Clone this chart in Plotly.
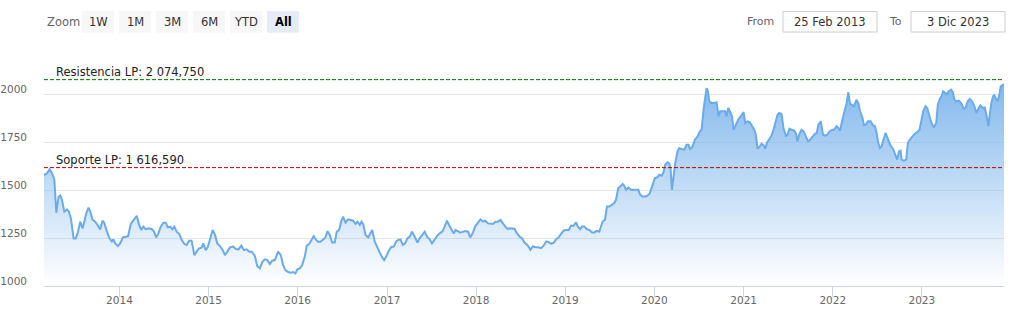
import plotly.graph_objects as go
import pandas as pd

# ---- data (dates as decimal years) ----
anio_a = [2013.153,2013.187,2013.216,2013.243,2013.269,2013.291,2013.317,2013.336,2013.355,2013.381,
          2013.411,2013.433,2013.455,2013.485,2013.508,2013.530,2013.560,2013.586,2013.605,2013.627,
          2013.653,2013.672,2013.698,2013.728,2013.754,2013.784,2013.810,2013.829,2013.859,2013.888,
          2013.915,2013.933,2013.952,2013.982,2014.008,2014.038,2014.071,2014.097,2014.127,2014.150,
          2014.176,2014.194,2014.221,2014.243,2014.269,2014.295,2014.325,2014.362,2014.389,2014.411,
          2014.437,2014.463,2014.493,2014.519,2014.542,2014.568,2014.594,2014.616,2014.642,2014.672,
          2014.698,2014.728,2014.754,2014.781,2014.810,2014.840,2014.866,2014.893,2014.922,2014.941,
          2014.967,2014.990,2015.016,2015.046,2015.072,2015.098,2015.128,2015.158,2015.184,2015.210,
          2015.240,2015.277,2015.307,2015.337,2015.367,2015.396,2015.426,2015.456,2015.486,2015.520,
          2015.546,2015.576,2015.606,2015.632,2015.658,2015.688,2015.714]
valor_a = [1578,1587,1608,1587,1555,1382,1465,1472,1448,1387,
           1399,1387,1352,1248,1248,1274,1335,1300,1335,1378,
           1408,1387,1344,1335,1318,1295,1340,1330,1283,1248,
           1231,1243,1222,1208,1222,1253,1257,1260,1323,1340,
           1352,1366,1318,1292,1309,1295,1300,1297,1283,1253,
           1274,1309,1330,1330,1306,1309,1295,1309,1283,1271,
           1240,1219,1214,1236,1236,1161,1179,1196,1200,1222,
           1187,1201,1243,1292,1266,1222,1208,1187,1161,1179,
           1201,1205,1193,1191,1210,1187,1191,1179,1179,1156,
           1104,1092,1127,1139,1135,1115,1132]

anio_b = [2015.744,2015.781,2015.811,2015.837,2015.863,2015.893,2015.923,2015.949,2015.975,2015.997,
          2016.024,2016.050,2016.080,2016.102,2016.128,2016.154,2016.180,2016.206,2016.229,2016.255,
          2016.285,2016.311,2016.333,2016.359,2016.386,2016.415,2016.438,2016.464,2016.486,2016.509,
          2016.535,2016.565,2016.591,2016.621,2016.647,2016.669,2016.695,2016.714,2016.733,2016.759,
          2016.789,2016.815,2016.834,2016.863,2016.893,2016.919,2016.946,2016.968,2016.994,2017.020,
          2017.050,2017.076,2017.102,2017.125,2017.151,2017.177,2017.203,2017.229,2017.255,2017.281,
          2017.311,2017.341,2017.367,2017.397,2017.423,2017.449,2017.479,2017.505,2017.535,2017.561,
          2017.591,2017.621,2017.647,2017.673,2017.696,2017.722,2017.748,2017.770,2017.797,2017.823,
          2017.853,2017.879,2017.909,2017.935,2017.965,2017.991,2018.021,2018.050,2018.077,2018.103,
          2018.133,2018.162,2018.189,2018.218,2018.245,2018.274,2018.301,2018.327,2018.357]
valor_b = [1135,1179,1161,1109,1083,1073,1069,1073,1066,1087,
           1092,1109,1153,1210,1219,1243,1260,1240,1231,1231,
           1243,1253,1286,1266,1226,1226,1283,1292,1335,1361,
           1330,1347,1344,1340,1323,1335,1318,1335,1323,1266,
           1253,1274,1292,1231,1196,1174,1149,1135,1156,1184,
           1205,1205,1231,1240,1243,1214,1222,1248,1257,1283,
           1257,1226,1248,1266,1283,1257,1243,1222,1243,1260,
           1274,1283,1309,1340,1318,1292,1274,1292,1283,1278,
           1283,1286,1283,1253,1278,1312,1330,1347,1335,1340,
           1326,1326,1323,1335,1335,1344,1326,1309,1297]

anio_c = [2018.375,2018.431,2018.457,2018.487,2018.513,2018.543,2018.580,2018.610,2018.636,2018.666,
          2018.696,2018.730,2018.760,2018.786,2018.816,2018.842,2018.872,2018.898,2018.928,2018.954,
          2018.984,2019.010,2019.040,2019.066,2019.092,2019.122,2019.140,2019.167,2019.189,2019.215,
          2019.241,2019.271,2019.301,2019.327,2019.353,2019.383,2019.402,2019.420,2019.446,2019.469,
          2019.495,2019.521,2019.551,2019.570,2019.596,2019.618,2019.644,2019.663,2019.682,2019.708,
          2019.738,2019.764,2019.794,2019.820,2019.842,2019.868,2019.898,2019.924,2019.950,2019.973,
          2019.991,2020.006,2020.036,2020.055,2020.081,2020.100,2020.122,2020.148,2020.167,2020.182,
          2020.197,2020.212,2020.234,2020.260,2020.279,2020.305,2020.335,2020.361,2020.383,2020.402,
          2020.428,2020.454,2020.484,2020.510,2020.529,2020.551,2020.570,2020.585,2020.600,2020.615,
          2020.641,2020.671,2020.697,2020.719,2020.738,2020.764,2020.794,2020.809,2020.828,2020.846,
          2020.869,2020.887,2020.913,2020.943,2020.969,2020.999,2021.018,2021.044,2021.070,2021.100]
valor_c = [1301,1298,1275,1258,1249,1226,1211,1188,1206,1202,
           1202,1197,1211,1232,1228,1219,1226,1244,1254,1272,
           1289,1292,1292,1315,1313,1331,1310,1296,1310,1310,
           1296,1292,1279,1279,1287,1284,1310,1336,1345,1414,
           1414,1423,1432,1449,1510,1518,1531,1522,1501,1513,
           1501,1501,1501,1501,1475,1466,1466,1471,1484,1515,
           1536,1562,1567,1579,1574,1588,1631,1644,1637,1614,
           1501,1571,1640,1701,1718,1713,1710,1736,1736,1710,
           1727,1762,1779,1805,1814,1918,1988,2031,2014,1962,
           1953,1953,1957,1884,1910,1910,1910,1884,1927,1910,
           1884,1814,1840,1870,1884,1906,1849,1857,1852,1831]

anio_d = [2021.119,2021.137,2021.156,2021.182,2021.201,2021.223,2021.242,2021.261,2021.287,2021.313,
          2021.335,2021.361,2021.380,2021.399,2021.425,2021.447,2021.473,2021.492,2021.514,2021.537,
          2021.567,2021.585,2021.604,2021.623,2021.649,2021.671,2021.697,2021.723,2021.746,2021.772,
          2021.798,2021.820,2021.839,2021.865,2021.891,2021.910,2021.940,2021.966,2021.996,2022.015,
          2022.041,2022.063,2022.082,2022.108,2022.134,2022.156,2022.175,2022.194,2022.212,2022.239,
          2022.265,2022.287,2022.306,2022.332,2022.351,2022.369,2022.395,2022.425,2022.451,2022.474,
          2022.492,2022.511,2022.530,2022.548,2022.575,2022.593,2022.612,2022.631,2022.649,2022.675,
          2022.698,2022.724,2022.743,2022.761,2022.772,2022.798,2022.825,2022.843,2022.866,2022.892,
          2022.918,2022.948,2022.974,2022.993,2023.015,2023.041,2023.060,2023.086,2023.108,2023.134,
          2023.161,2023.179,2023.202,2023.220,2023.239,2023.265,2023.284,2023.302,2023.329,2023.347,
          2023.366,2023.388,2023.414,2023.441,2023.470,2023.489,2023.515,2023.538,2023.564,2023.590,
          2023.612,2023.638,2023.657,2023.683,2023.706,2023.732,2023.747,2023.762,2023.780,2023.799,
          2023.814,2023.832,2023.851,2023.870,2023.885,2023.922]
valor_d = [1814,1788,1715,1727,1741,1733,1715,1745,1767,1783,
           1814,1861,1892,1901,1896,1823,1783,1788,1819,1814,
           1809,1797,1753,1788,1814,1806,1780,1753,1762,1780,
           1792,1797,1840,1858,1788,1783,1788,1806,1814,1814,
           1832,1823,1809,1866,1910,1953,2009,1948,1944,1936,
           1970,1953,1910,1878,1837,1840,1858,1858,1837,1832,
           1797,1745,1719,1727,1771,1797,1774,1753,1731,1715,
           1684,1658,1701,1705,1658,1653,1658,1745,1762,1780,
           1792,1802,1814,1858,1910,1936,1927,1884,1849,1826,
           1849,1944,1976,1988,2014,2005,2000,2014,2023,2010,
           1970,1962,1965,1953,1924,1927,1962,1974,1962,1936,
           1901,1927,1941,1927,1930,1875,1832,1892,1953,1988,
           1993,1976,1962,1997,2040,2052]

resistencia = 2074.750
soporte = 1616.590
texto_resistencia = "Resistencia LP: 2 074,750"
texto_soporte = "Soporte LP: 1 616,590"
botones = ["1W", "1M", "3M", "6M", "YTD", "All"]
boton_activo = "All"
fecha_desde = "25 Feb 2013"
fecha_hasta = "3 Dic 2023"
y_ticks = [1000, 1250, 1500, 1750, 2000]


def a_fecha(t):
    y = int(t)
    s = pd.Timestamp(year=y, month=1, day=1)
    e = pd.Timestamp(year=y + 1, month=1, day=1)
    return s + (e - s) * (t - y)


anios = anio_a + anio_b + anio_c + anio_d
valores = valor_a + valor_b + valor_c + valor_d
fechas = [a_fecha(t) for t in anios]

FONT = "DejaVu Sans"
W, H = 1013, 321
L, R, T, B = 44, 1004, 70, 286


def px(x):
    return (x - L) / (R - L)


def py(y):
    return (B - y) / (B - T)


fig = go.Figure()
fig.add_trace(go.Scatter(
    x=fechas, y=valores, mode="lines",
    line=dict(color="#6aabee", width=2),
    fill="tozeroy",
    fillgradient=dict(type="vertical",
                      colorscale=[[0, "rgba(124,181,236,0)"], [1, "rgba(124,181,236,0.95)"]],
                      start=1000, stop=2060),
    hoverinfo="skip", showlegend=False,
))

shapes = []
annotations = []

# plot lines
for val, col, txt in [(resistencia, "#007000", texto_resistencia), (soporte, "#bb0000", texto_soporte)]:
    shapes.append(dict(type="line", xref="paper", yref="y", x0=0, x1=1, y0=val, y1=val,
                       line=dict(color=col, width=1, dash="4px,2px"), layer="above"))
    annotations.append(dict(text=txt, xref="paper", yref="y", x=0, y=val, xanchor="left",
                            yanchor="middle", xshift=10, yshift=8, showarrow=False,
                            font=dict(family=FONT, size=11.5, color="#222222")))

# range selector look
annotations.append(dict(text="Zoom", xref="paper", yref="paper", x=px(44.5), y=py(21.5),
                        xanchor="left", yanchor="middle", showarrow=False,
                        font=dict(family=FONT, size=11.5, color="#666666")))
bx = 82
for b in botones:
    activo = b == boton_activo
    shapes.append(dict(type="rect", xref="paper", yref="paper", x0=px(bx), x1=px(bx + 32),
                       y0=py(11), y1=py(32.7), fillcolor="#e6ebf5" if activo else "#f7f7f7",
                       line=dict(width=0), layer="above"))
    annotations.append(dict(text=f"<b>{b}</b>" if activo else b, xref="paper", yref="paper",
                            x=px(bx + 16), y=py(21.8), xanchor="center", yanchor="middle",
                            showarrow=False,
                            font=dict(family=FONT, size=11.5, color="#000000" if activo else "#333333")))
    bx += 37.0

# from / to inputs
annotations.append(dict(text="From", xref="paper", yref="paper", x=px(775.5), y=py(21.5),
                        xanchor="right", yanchor="middle", showarrow=False,
                        font=dict(family=FONT, size=11, color="#666666")))
annotations.append(dict(text="To", xref="paper", yref="paper", x=px(903.5), y=py(21.5),
                        xanchor="right", yanchor="middle", showarrow=False,
                        font=dict(family=FONT, size=11, color="#666666")))
for x0, x1, txt in [(783, 877, fecha_desde), (911, 1005, fecha_hasta)]:
    shapes.append(dict(type="rect", xref="paper", yref="paper", x0=px(x0), x1=px(x1),
                       y0=py(11.5), y1=py(32), fillcolor="white",
                       line=dict(color="#cccccc", width=1), layer="above"))
    annotations.append(dict(text=txt, xref="paper", yref="paper", x=px((x0 + x1) / 2), y=py(21.8),
                            xanchor="center", yanchor="middle", showarrow=False,
                            font=dict(family=FONT, size=11.5, color="#333333")))

fig.update_layout(
    width=W, height=H,
    margin=dict(l=L, r=W - R, t=T, b=H - B, pad=0, autoexpand=False),
    paper_bgcolor="white", plot_bgcolor="white",
    shapes=shapes, annotations=annotations,
    font=dict(family=FONT, size=11, color="#666666"),
    xaxis=dict(type="date", range=[a_fecha(2013.153), a_fecha(2023.922)],
               dtick="M12", tick0="2014-01-01", tickformat="%Y",
               showgrid=False, showline=True, linecolor="#ccd6eb", linewidth=1,
               ticks="outside", ticklen=10, tickcolor="#ccd6eb", tickwidth=1,
               ticklabelstandoff=-6, automargin=False,
               tickfont=dict(family=FONT, size=10.5, color="#666666"),
               zeroline=False, fixedrange=True),
    yaxis=dict(range=[1000, 2125], tickvals=y_ticks, showgrid=True, gridcolor="#e6e6e6",
               gridwidth=1, zeroline=False, showline=False, ticks="",
               ticklabelstandoff=16, ticklabelshift=-5, automargin=False,
               tickfont=dict(family=FONT, size=10.5, color="#666666"), fixedrange=True),
    hovermode=False,
)

fig.write_html("out.html", config={"displayModeBar": False})
